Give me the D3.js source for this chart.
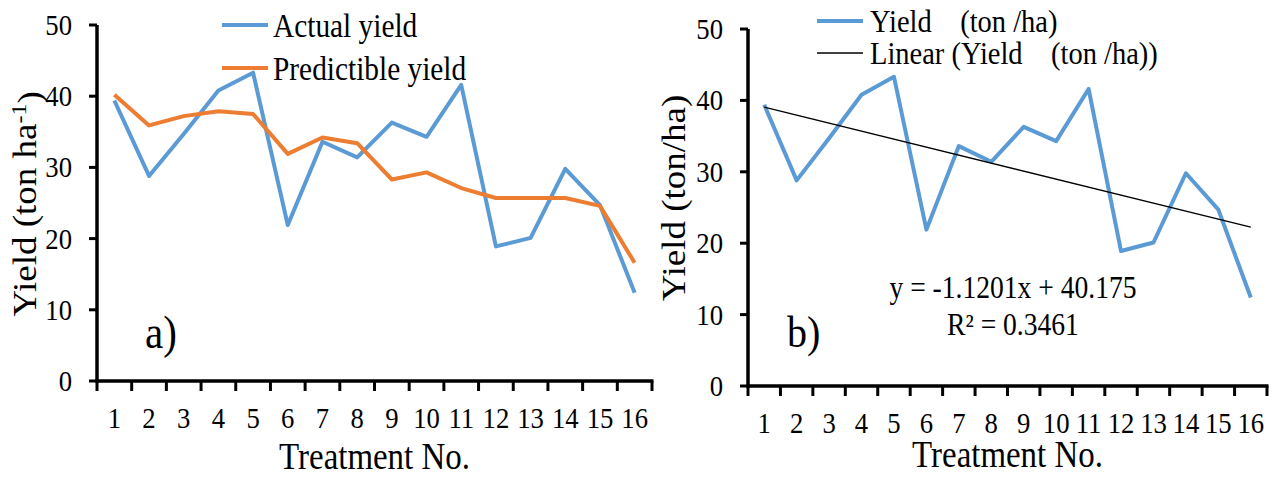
<!DOCTYPE html>
<html>
<head>
<meta charset="utf-8">
<script src="https://cdn.jsdelivr.net/npm/d3@7"></script>
<style>
  body { margin: 0; background: #fff; }
  svg text { font-family: "Liberation Serif", "Times New Roman", serif; fill: #000; }
</style>
</head>
<body>
<div id="chart"></div>
<script>
// treatment numbers and yields
var treatments = d3.range(1, 17);
var actualYield = [39.4, 28.8, 34.7, 40.8, 43.3, 21.9, 33.6, 31.4, 36.3, 34.3, 41.6, 18.9, 20.1, 29.8, 24.7, 12.4];
var predYield = [40.2, 35.9, 37.2, 37.9, 37.5, 31.9, 34.2, 33.4, 28.3, 29.3, 27.1, 25.7, 25.7, 25.7, 24.6, 16.6];
var yTicks = [0, 10, 20, 30, 40, 50];
// excel linear trend (from the label on panel b)
var trendSlope = -1.1201;
var trendIntercept = 40.175;

var blue = "#5B9BD5", orange = "#ED7D31";
var axisColor = "#000";
var SX = 0.89; // the figure is a bit squeezed sideways

var svg = d3.select("#chart").append("svg")
    .attr("width", 1278)
    .attr("height", 477);

// draw one panel, returns scales
function drawPanel(left, right, top, bottom, titleGap, yTitle, yTitleX, yTitleY) {
    var g = svg.append("g");

    var x = d3.scaleLinear().domain([0.5, 16.5]).range([left, right]);
    var y = d3.scaleLinear().domain([0, 50]).range([bottom, top]);

    // axis lines
    g.append("line")
        .attr("x1", left).attr("x2", left)
        .attr("y1", y(0) + 1.5).attr("y2", y(50))
        .attr("stroke", axisColor).attr("stroke-width", 3.5);
    g.append("line")
        .attr("x1", left - 1.5).attr("x2", right + 1.5)
        .attr("y1", y(0)).attr("y2", y(0))
        .attr("stroke", axisColor).attr("stroke-width", 3.5);

    // y ticks + labels
    g.selectAll(".ytick").data(yTicks).join("line")
        .attr("class", "ytick")
        .attr("x1", left - 8).attr("x2", left)
        .attr("y1", function (d) { return y(d); })
        .attr("y2", function (d) { return y(d); })
        .attr("stroke", axisColor).attr("stroke-width", 3);
    g.selectAll(".ylab").data(yTicks).join("text")
        .attr("class", "ylab")
        .attr("text-anchor", "end")
        .attr("dy", "0.33em")
        .attr("transform", function (d) { return `translate(${left - 25},${y(d)}) scale(${SX},1)`; })
        .style("font-size", "30px")
        .text(function (d) { return d; });

    // x ticks between categories + labels
    g.selectAll(".xtick").data(d3.range(0.5, 17, 1)).join("line")
        .attr("class", "xtick")
        .attr("x1", function (d) { return x(d); })
        .attr("x2", function (d) { return x(d); })
        .attr("y1", y(0)).attr("y2", y(0) + 10)
        .attr("stroke", axisColor).attr("stroke-width", 3);
    g.selectAll(".xlab").data(treatments).join("text")
        .attr("class", "xlab")
        .attr("text-anchor", "middle")
        .attr("transform", function (d) { return `translate(${x(d)},${bottom + 47}) scale(${SX},1)`; })
        .style("font-size", "30px")
        .text(function (d) { return d; });

    // x title
    g.append("text")
        .attr("text-anchor", "middle")
        .attr("transform", `translate(${(left + right) / 2},${bottom + titleGap}) scale(${SX},1)`)
        .style("font-size", "37px")
        .text("Treatment No.");

    // y title
    var yt = g.append("text")
        .attr("text-anchor", "middle")
        .attr("transform", `translate(${yTitleX},${yTitleY}) rotate(-90) scale(1,${SX})`)
        .style("font-size", "37px");
    yTitle(yt);

    return { g: g, x: x, y: y };
}

var pa = drawPanel(97, 652, 25, 381, 88, function (t) {
    t.append("tspan").text("Yield (ton ha");
    t.append("tspan").attr("dy", "-0.45em").style("font-size", "24px").text("-1");
    t.append("tspan").attr("dy", "0.45em").text(")");
}, 36, 204);

var pb = drawPanel(748, 1267, 29, 386, 81, function (t) {
    t.text("Yield (ton/ha)");
}, 685, 198);

var lineA = d3.line()
    .x(function (d, i) { return pa.x(treatments[i]); })
    .y(function (d) { return pa.y(d); });

pa.g.append("path")
    .datum(actualYield)
    .attr("fill", "none")
    .attr("stroke", blue)
    .attr("stroke-width", 4)
    .attr("stroke-linejoin", "round")
    .attr("d", lineA);

pa.g.append("path")
    .datum(predYield)
    .attr("fill", "none")
    .attr("stroke", orange)
    .attr("stroke-width", 4)
    .attr("stroke-linejoin", "round")
    .attr("d", lineA);

// legend a
var legA = [["Actual yield", blue], ["Predictible yield", orange]];
legA.forEach(function (d, i) {
    var ly = 25 + i * 43;
    pa.g.append("line")
        .attr("x1", 222).attr("x2", 268)
        .attr("y1", ly).attr("y2", ly)
        .attr("stroke", d[1]).attr("stroke-width", 4);
    pa.g.append("text")
        .attr("transform", `translate(273,${ly + 12}) scale(${SX},1)`)
        .style("font-size", "33px")
        .text(d[0]);
});

pa.g.append("text")
    .attr("transform", `translate(145,348) scale(${SX},1)`)
    .style("font-size", "46px")
    .text("a)");

// panel b
var lineB = d3.line()
    .x(function (d, i) { return pb.x(treatments[i]); })
    .y(function (d) { return pb.y(d); });

pb.g.append("path")
    .datum(actualYield)
    .attr("fill", "none")
    .attr("stroke", blue)
    .attr("stroke-width", 4)
    .attr("stroke-linejoin", "round")
    .attr("d", lineB);

var trendPts = [1, 16].map(function (t) { return [t, trendSlope * t + trendIntercept]; });
pb.g.append("line")
    .attr("x1", pb.x(trendPts[0][0])).attr("y1", pb.y(trendPts[0][1]))
    .attr("x2", pb.x(trendPts[1][0])).attr("y2", pb.y(trendPts[1][1]))
    .attr("stroke", "#000").attr("stroke-width", 1.3);

var legB = [["Yield    (ton /ha)", blue, 4], ["Linear (Yield    (ton /ha))", "#000", 1.3]];
legB.forEach(function (d, i) {
    var ly = 21 + i * 32;
    pb.g.append("line")
        .attr("x1", 817).attr("x2", 863)
        .attr("y1", ly).attr("y2", ly)
        .attr("stroke", d[1]).attr("stroke-width", d[2]);
    pb.g.append("text")
        .attr("transform", `translate(870,${ly + 11}) scale(${SX},1)`)
        .style("font-size", "32px")
        .style("white-space", "pre")
        .text(d[0]);
});

pb.g.append("text")
    .attr("text-anchor", "middle")
    .attr("transform", `translate(1013,298) scale(${SX},1)`)
    .style("font-size", "31px")
    .style("white-space", "pre")
    .text("y = -1.1201x + 40.175");

pb.g.append("text")
    .attr("text-anchor", "middle")
    .attr("transform", `translate(1013,335) scale(${SX},1)`)
    .style("font-size", "31px")
    .text("R\u00B2 = 0.3461");

pb.g.append("text")
    .attr("transform", `translate(787,347) scale(${SX},1)`)
    .style("font-size", "45px")
    .text("b)");
</script>
</body>
</html>
